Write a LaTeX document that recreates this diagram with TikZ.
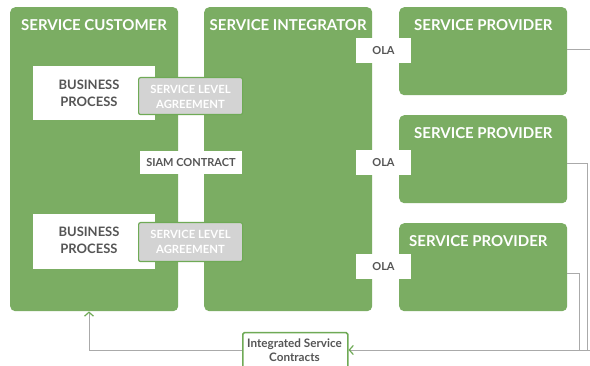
\documentclass[tikz,border=0pt]{standalone}
\usepackage{fontspec}
\setmainfont{Lato}
\usetikzlibrary{arrows.meta}
\definecolor{panelgreen}{HTML}{7BAD63}
\definecolor{edgegreen}{HTML}{6FAA56}
\definecolor{slagray}{HTML}{D3D3D3}
\definecolor{labelgray}{HTML}{555555}
\definecolor{wiregray}{HTML}{AAAAAA}
\tikzset{
  panel/.style={fill=panelgreen, draw=none, rounded corners=5pt, anchor=north west, inner sep=0pt},
  title/.style={text=white, font=\bfseries\fontsize{15}{17}\selectfont, anchor=base west, inner sep=0pt},
  procbox/.style={fill=white, draw=none, anchor=north west, inner sep=0pt},
  slabox/.style={fill=slagray, draw=edgegreen, line width=1.2pt, rounded corners=2pt, anchor=north west, inner sep=0pt},
  tagbox/.style={fill=white, draw=none, anchor=north west, inner sep=0pt},
  proctext/.style={text=labelgray, font=\bfseries\fontsize{13}{16.5}\selectfont, align=center, anchor=base, inner sep=0pt},
  slatext/.style={text=white, font=\bfseries\fontsize{11.3}{15}\selectfont, align=center, anchor=base, inner sep=0pt},
  tagtext/.style={text=labelgray, font=\bfseries\fontsize{11}{14.5}\selectfont, align=center, anchor=base, inner sep=0pt},
  wire/.style={draw=wiregray, line width=0.9pt},
  tip/.style={-{Straight Barb[color=edgegreen, length=4pt, width=9pt, line width=1.2pt]}},
}
\begin{document}
\begin{tikzpicture}[x=1pt, y=-1pt]
\fill[white] (0,0) rectangle (590,366);
\useasboundingbox (0,0) rectangle (590,366);
\clip (0,0) rectangle (590,366);

% main panels
\node[panel, minimum width=168pt, minimum height=304pt] (cust) at (10,7) {};
\node[panel, minimum width=168pt, minimum height=304pt] (integ) at (204,7) {};
\node[panel, minimum width=168pt, minimum height=88pt] (prov1) at (399,7) {};
\node[panel, minimum width=168pt, minimum height=88pt] (prov2) at (399,115) {};
\node[panel, minimum width=168pt, minimum height=88pt] (prov3) at (399,223) {};

\node[title] (custtitle) at (21,31) {SERVICE CUSTOMER};
\node[title] (integtitle) at (209.5,31) {SERVICE INTEGRATOR};
\node[title] (prov1title) at (414,31) {SERVICE PROVIDER};
\node[title] (prov2title) at (414,139) {SERVICE PROVIDER};
\node[title] (prov3title) at (409,246.5) {SERVICE PROVIDER};

% business processes with their service level agreements
\node[procbox, minimum width=122pt, minimum height=54pt] (bp1) at (33,66) {};
\node[procbox, minimum width=122pt, minimum height=55pt] (bp2) at (33,214) {};
\node[proctext] (bp1a) at (89,90) {BUSINESS};
\node[proctext] (bp1b) at (89,106.7) {PROCESS};
\node[proctext] (bp2a) at (89,236.7) {BUSINESS};
\node[proctext] (bp2b) at (89,254) {PROCESS};

\node[slabox, minimum width=104pt, minimum height=37pt] (sla1) at (138,77) {};
\node[slabox, minimum width=104pt, minimum height=39pt] (sla2) at (138,222) {};
\node[slatext] (sla1a) at (190.5,93.3) {SERVICE LEVEL};
\node[slatext] (sla1b) at (190.5,108.7) {AGREEMENT};
\node[slatext] (sla2a) at (190.5,238.3) {SERVICE LEVEL};
\node[slatext] (sla2b) at (190.5,253.5) {AGREEMENT};

% contract tags between the panels
\node[tagbox, minimum width=102pt, minimum height=23pt] (siam) at (140,151) {};
\node[tagtext] (siamtext) at (191,166.7) {SIAM CONTRACT};
\node[tagbox, minimum width=55pt, minimum height=25pt] (ola1) at (356,38) {};
\node[tagbox, minimum width=55pt, minimum height=25pt] (ola2) at (356,150) {};
\node[tagbox, minimum width=55pt, minimum height=25pt] (ola3) at (356,254) {};
\node[tagtext] (ola1text) at (383.5,55) {OLA};
\node[tagtext] (ola2text) at (383.5,166.7) {OLA};
\node[tagtext] (ola3text) at (383.5,270.7) {OLA};

% integrated service contracts
\node[fill=white, draw=edgegreen, line width=1.5pt, rounded corners=1.5pt, anchor=north west,
      minimum width=105pt, minimum height=45pt, inner sep=0pt] (isc) at (242,332) {};
\node[tagtext, font=\bfseries\fontsize{11.7}{14.5}\selectfont] (isca) at (294.5,347.3) {Integrated Service};
\node[tagtext, font=\bfseries\fontsize{11.7}{14.5}\selectfont] (iscb) at (294.5,361.7) {Contracts};

% feedback wiring
\coordinate (p1out) at (590,49);
\coordinate (p2bend) at (587,163);
\coordinate (p3bend) at (579,273);
\coordinate (busin) at (590,350);
\coordinate (custbend) at (89,350);

\draw[wire] (prov1.east |- p1out) -- (p1out);
\draw[wire] (prov2.east |- p2bend) -- (p2bend) -- (p2bend |- busin);
\draw[wire] (prov3.east |- p3bend) -- (p3bend) -- (p3bend |- busin);
\draw[wire, tip] (busin) -- (isc.east |- busin);
\draw[wire, tip] (isc.west |- custbend) -- (custbend) -- (custbend |- cust.south);
\end{tikzpicture}
\end{document}
